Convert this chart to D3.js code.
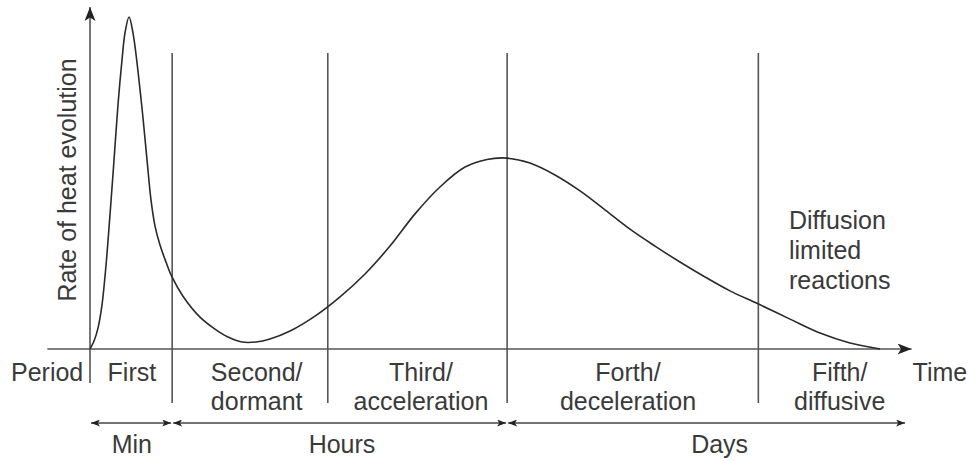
<!DOCTYPE html>
<html>
<head>
<meta charset="utf-8">
<script src="https://cdn.jsdelivr.net/npm/d3@7.9.0/dist/d3.min.js"></script>
<style>
  html, body { margin: 0; padding: 0; background: #fff; }
  svg { display: block; font-family: "Liberation Sans", Arial, sans-serif; }
  text { fill: #3a3a3a; }
</style>
</head>
<body>
<svg width="969" height="461"></svg>
<script>
// Heat evolution curve (relative time 0-100, relative rate 0-100)
const timeVals = [0, 0.51, 1.01, 1.52, 2.03, 2.53, 3.04, 3.54, 4.05, 4.43, 4.94,
    5.44, 6.46, 7.22, 7.72, 8.23, 8.86, 9.62, 10.38, 11.77, 13.92, 15.82, 17.47, 19.24, 21.01,
    22.78, 25.32, 28.48, 31.65, 34.81, 37.97, 41.14, 44.3, 47.47, 50.25, 52.78,
    55.7, 58.86, 62.03, 65.19, 68.35, 71.52, 74.68, 77.85, 81.01, 84.56, 88.61, 92.41, 96.2, 100];
const rateVals = [0, 2.4, 6.3, 13.3, 25.3, 40.4, 56.9, 73.5, 87.0, 95.2, 100,
    95.2, 75.3, 56.9, 44.9, 37.0, 31.3, 26.2, 21.7, 15.9, 9.6, 6.0, 3.6, 2.1, 2.1,
    3.0, 5.4, 9.9, 15.7, 22.6, 31.0, 40.7, 48.8, 54.8, 57.1, 57.5,
    56.0, 52.4, 47.6, 41.9, 36.1, 31.0, 26.2, 21.7, 17.5, 13.6, 9.0, 4.8, 1.8, 0];

// Period boundaries and labels
const boundaries = [10.4, 30.1, 52.8, 84.6];
const periodNames = [["First"], ["Second/", "dormant"], ["Third/", "acceleration"], ["Forth/", "deceleration"], ["Fifth/", "diffusive"]];
const periodCenters = [5.3, 21.1, 41.9, 68.1, 94.9];

// Time scale ranges
const scaleNames = ["Min", "Hours", "Days"];
const scaleStarts = [0, 10.4, 52.8];
const scaleEnds = [10.4, 52.8, 103.3];
const scaleCenters = [5.3, 31.9, 79.7];

const noteLines = ["Diffusion", "limited", "reactions"];

const svg = d3.select('svg');
const x = d3.scaleLinear().domain([0, 100]).range([90, 880]);
const y = d3.scaleLinear().domain([0, 100]).range([349, 17]);

const lineCol = '#555';
const fontSize = 25;

// arrow markers
const defs = svg.append('defs');
function marker(id, w, h) {
    defs.append('marker')
        .attr('id', id)
        .attr('viewBox', `0 0 ${w} ${h}`)
        .attr('refX', w).attr('refY', h / 2)
        .attr('markerWidth', w).attr('markerHeight', h)
        .attr('markerUnits', 'userSpaceOnUse')
        .attr('orient', 'auto-start-reverse')
        .append('path')
        .attr('d', `M0,0 L${w},${h / 2} L0,${h} L${w * 0.25},${h / 2} Z`)
        .attr('fill', '#222');
}
marker('bigArrow', 14, 11);
marker('smallArrow', 9, 7);

// x axis
svg.append('line')
    .attr('x1', x(-5.4)).attr('x2', x(104))
    .attr('y1', y(0)).attr('y2', y(0))
    .attr('stroke', lineCol).attr('stroke-width', 1.6)
    .attr('marker-end', 'url(#bigArrow)');

// y axis
svg.append('line')
    .attr('x1', x(0)).attr('x2', x(0))
    .attr('y1', y(0) + 34).attr('y2', 7)
    .attr('stroke', lineCol).attr('stroke-width', 1.6)
    .attr('marker-end', 'url(#bigArrow)');

// period boundaries
svg.selectAll('.boundary')
    .data(boundaries)
    .join('line')
    .attr('class', 'boundary')
    .attr('x1', d => x(d)).attr('x2', d => x(d))
    .attr('y1', 53).attr('y2', y(0) + 54)
    .attr('stroke', lineCol).attr('stroke-width', 1.6);

// curve
const curveData = timeVals.map((t, i) => [t, rateVals[i]]);
const line = d3.line()
    .x(d => x(d[0]))
    .y(d => y(d[1]))
    .curve(d3.curveCatmullRom.alpha(0.5));
svg.append('path')
    .attr('d', line(curveData))
    .attr('fill', 'none')
    .attr('stroke', '#2a2a2a')
    .attr('stroke-width', 1.6);

// y label
svg.append('text')
    .attr('transform', `translate(76,${180}) rotate(-90)`)
    .attr('text-anchor', 'middle')
    .attr('font-size', fontSize)
    .text('Rate of heat evolution');

// period row
const rowY = y(0) + 32;
svg.append('text')
    .attr('x', 11).attr('y', rowY)
    .attr('font-size', fontSize)
    .text('Period');
svg.append('text')
    .attr('x', x(104) + 1).attr('y', rowY)
    .attr('font-size', fontSize)
    .text('Time');

const periodText = svg.selectAll('.period')
    .data(periodNames)
    .join('text')
    .attr('class', 'period')
    .attr('text-anchor', 'middle')
    .attr('font-size', fontSize)
    .attr('x', (d, i) => x(periodCenters[i]))
    .attr('y', rowY);
periodText.selectAll('tspan')
    .data(d => d)
    .join('tspan')
    .attr('x', function () { return this.parentNode.getAttribute('x'); })
    .attr('dy', (d, i) => i === 0 ? 0 : 29)
    .text(d => d);

// time scale arrows
const arrowY = y(0) + 74;
svg.selectAll('.span')
    .data(scaleNames)
    .join('line')
    .attr('class', 'span')
    .attr('x1', (d, i) => x(scaleStarts[i]) + 1)
    .attr('x2', (d, i) => x(scaleEnds[i]) - 1)
    .attr('y1', arrowY).attr('y2', arrowY)
    .attr('stroke', '#444').attr('stroke-width', 1.4)
    .attr('marker-start', 'url(#smallArrow)')
    .attr('marker-end', 'url(#smallArrow)');

svg.selectAll('.spanLabel')
    .data(scaleNames)
    .join('text')
    .attr('class', 'spanLabel')
    .attr('text-anchor', 'middle')
    .attr('font-size', fontSize)
    .attr('x', (d, i) => x(scaleCenters[i]))
    .attr('y', y(0) + 104)
    .text(d => d);

// diffusion note
svg.selectAll('.note')
    .data(noteLines)
    .join('text')
    .attr('class', 'note')
    .attr('font-size', fontSize)
    .attr('x', 789)
    .attr('y', (d, i) => 229 + i * 30)
    .text(d => d);
</script>
</body>
</html>
